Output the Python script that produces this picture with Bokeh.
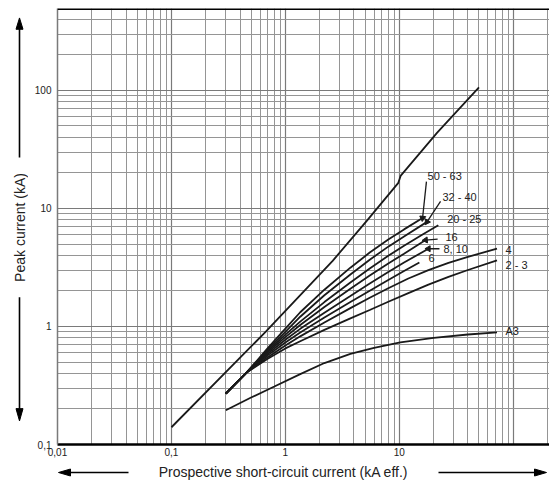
import math
from bokeh.plotting import figure
from bokeh.models import FixedTicker, CustomJSTickFormatter, Range1d, Span
from bokeh.layouts import row, column
from bokeh.embed import file_html
from bokeh.resources import INLINE
from bokeh.core.properties import value

FONT = "Liberation Sans"

# ---------------- data ----------------
x_major = [0.01, 0.1, 1, 10, 100]
y_major = [0.1, 1, 10, 100]
x_minor = [0.02, 0.03, 0.04, 0.05, 0.06, 0.07, 0.08, 0.09,
           0.2, 0.3, 0.4, 0.5, 0.6, 0.7, 0.8, 0.9,
           2, 3, 4, 5, 6, 7, 8, 9,
           20, 30, 40, 50, 60, 70, 80, 90, 200]
y_minor = [0.2, 0.3, 0.4, 0.5, 0.6, 0.7, 0.8, 0.9,
           2, 3, 4, 5, 6, 7, 8, 9,
           20, 30, 40, 50, 60, 70, 80, 90,
           200, 300, 400]

# maximum (unlimited) peak current line
top_x = [0.1, 0.67, 2.6, 5.2, 9.8, 10.3, 21.5, 50]
top_y = [0.14, 0.9, 3.6, 7.9, 16.5, 19.0, 44, 106]

# let-through curves per fuse rating
c50_63_x = [0.3, 0.46, 0.7, 1.0, 1.35, 2.2, 3.72, 5.5, 8, 11, 16]
c50_63_y = [0.27, 0.41, 0.655, 0.96, 1.32, 2.05, 3.15, 4.23, 5.46, 6.65, 8.3]
c32_40_x = [0.3, 0.46, 0.7, 1.0, 1.35, 2.2, 3.72, 5.5, 8, 11, 17.5]
c32_40_y = [0.27, 0.41, 0.637, 0.90, 1.21, 1.84, 2.76, 3.68, 4.75, 5.8, 7.7]
c20_25_x = [0.3, 0.46, 0.7, 1.0, 1.35, 2.2, 3.72, 5.5, 8, 11, 16, 22]
c20_25_y = [0.27, 0.41, 0.619, 0.854, 1.10, 1.61, 2.36, 3.10, 3.97, 4.84, 6.01, 7.2]
c16_x = [0.3, 0.46, 0.7, 1.0, 1.35, 2.2, 3.72, 5.5, 8, 11, 17]
c16_y = [0.27, 0.41, 0.603, 0.813, 1.03, 1.46, 2.09, 2.70, 3.42, 4.14, 5.4]
c8_10_x = [0.3, 0.46, 0.7, 1.0, 1.35, 2.2, 3.72, 5.5, 8, 11, 18]
c8_10_y = [0.27, 0.41, 0.586, 0.771, 0.955, 1.31, 1.81, 2.31, 2.89, 3.48, 4.56]
c6_x = [0.3, 0.46, 0.7, 1.0, 1.35, 2.2, 3.72, 5.5, 8, 11, 15]
c6_y = [0.27, 0.41, 0.569, 0.731, 0.888, 1.19, 1.61, 2.01, 2.48, 2.95, 3.49]
c4_x = [0.3, 0.46, 0.7, 1.0, 1.35, 2.2, 3.72, 5.5, 8, 12, 18, 27, 40, 72]
c4_y = [0.27, 0.41, 0.55, 0.689, 0.825, 1.08, 1.43, 1.75, 2.11, 2.55, 3.0, 3.46, 3.89, 4.56]
c2_3_x = [0.3, 0.46, 0.7, 1.0, 1.35, 2.2, 3.72, 5.5, 8, 12, 18, 27, 40, 72]
c2_3_y = [0.27, 0.41, 0.532, 0.652, 0.75, 0.935, 1.17, 1.38, 1.62, 1.92, 2.26, 2.63, 3.01, 3.63]
cA3_x = [0.3, 0.5, 0.8, 1.35, 2.2, 3.72, 6, 10.2, 20, 40, 72]
cA3_y = [0.195, 0.25, 0.31, 0.395, 0.49, 0.585, 0.66, 0.735, 0.80, 0.855, 0.89]

label_text = ["50 - 63", "32 - 40", "20 - 25", "16", "8, 10", "6", "4", "2 - 3", "A3"]
label_x = [17.7, 23.9, 26.3, 25.4, 24.4, 18.0, 85.5, 85.5, 85.5]
label_y = [19.0, 12.4, 8.2, 5.68, 4.58, 3.77, 4.49, 3.35, 0.91]

# leaders: start point near label, end at curve end
leader_x0 = [17.3, 23.0, 21.7, 22.5]
leader_y0 = [16.9, 11.5, 5.5, 4.56]
leader_curves = [(c50_63_x, c50_63_y), (c32_40_x, c32_40_y), (c16_x, c16_y), (c8_10_x, c8_10_y)]

curves = [(c50_63_x, c50_63_y), (c32_40_x, c32_40_y), (c20_25_x, c20_25_y),
          (c16_x, c16_y), (c8_10_x, c8_10_y), (c6_x, c6_y), (c4_x, c4_y),
          (c2_3_x, c2_3_y), (cA3_x, cA3_y)]

# ---------------- main chart ----------------
X_RANGE = (0.01, 208)
Y_RANGE = (0.1, 495)

p = figure(width=521, height=462, x_axis_type="log", y_axis_type="log",
           x_range=Range1d(*X_RANGE), y_range=Range1d(*Y_RANGE),
           output_backend="svg", toolbar_location=None,
           min_border_left=29, min_border_right=0, min_border_top=8, min_border_bottom=18)
p.outline_line_color = None
p.background_fill_color = "white"

fmt = CustomJSTickFormatter(code="if (tick >= 100) { return ''; } return String(tick).replace('.', ',');")
fmt_y = CustomJSTickFormatter(code="return String(tick).replace('.', ',');")

p.xaxis.ticker = FixedTicker(ticks=x_major, minor_ticks=x_minor)
p.yaxis.ticker = FixedTicker(ticks=y_major, minor_ticks=y_minor)
p.xaxis.formatter = fmt
p.yaxis.formatter = fmt_y
for ax in (p.xaxis, p.yaxis):
    ax.major_tick_out = 0
    ax.major_tick_in = 0
    ax.minor_tick_out = 0
    ax.minor_tick_in = 0
    ax.major_label_text_font = FONT
    ax.major_label_text_font_size = "10px"
    ax.major_label_text_color = "#222222"
p.xaxis.major_label_standoff = 3
p.yaxis.major_label_standoff = 6
p.xaxis.axis_line_color = "black"
p.xaxis.axis_line_width = 2.5
p.yaxis.axis_line_color = "#7a7a7a"
p.yaxis.axis_line_width = 1.5

for g in (p.xgrid, p.ygrid):
    g.grid_line_color = "#7a7a7a"
    g.grid_line_width = 1.2
    g.minor_grid_line_color = "#959595"
    g.minor_grid_line_width = 1.0

p.add_layout(Span(location=Y_RANGE[1], dimension="width", line_color="black", line_width=3))

LC = "#1a1a1a"
p.line(top_x, top_y, line_color=LC, line_width=1.8)
for cx, cy in curves:
    p.line(cx, cy, line_color=LC, line_width=1.8)

# leaders with arrowheads
x1 = [c[0][-1] for c in leader_curves]
y1 = [c[1][-1] for c in leader_curves]
p.segment(x0=leader_x0, y0=leader_y0, x1=x1, y1=y1, line_color=LC, line_width=1.3)
angles = []
for a, b, c, d in zip(leader_x0, leader_y0, x1, y1):
    dx = (math.log10(c) - math.log10(a)) * 113.8
    dy = (math.log10(d) - math.log10(b)) * 118
    angles.append(math.atan2(dy, dx) - math.pi / 2)
p.scatter(x=x1, y=y1, marker="triangle", size=6, angle=angles,
          fill_color=LC, line_color=LC)

p.text(x=label_x, y=label_y, text=label_text, text_font=value(FONT),
       text_font_size="11px", text_baseline="middle", text_align="left",
       text_color="#222222")

# ---------------- y-title strip with arrows ----------------
yf = figure(width=28, height=462, x_range=Range1d(0, 28), y_range=Range1d(0, 462),
            output_backend="svg", toolbar_location=None, min_border=0)
yf.axis.visible = False
yf.grid.visible = False
yf.outline_line_color = None
AX = 19
yf.segment(x0=[AX, AX], y0=[441, 156], x1=[AX, AX], y1=[304, 38], line_color="black", line_width=1.6)
yf.patches(xs=[[AX - 3.5, AX + 3.5, AX], [AX - 3.5, AX + 3.5, AX]],
           ys=[[440, 440, 452], [38, 38, 25]], fill_color="black", line_color="black")
yf.text(x=[AX], y=[230], text=["Peak current (kA)"], angle=math.pi / 2,
        text_font=value(FONT), text_font_size="14px", text_align="center",
        text_baseline="middle", text_color="#222222")

# ---------------- x-title strip with arrows ----------------
xf = figure(width=549, height=25, x_range=Range1d(0, 549), y_range=Range1d(0, 25),
            output_backend="svg", toolbar_location=None, min_border=0)
xf.axis.visible = False
xf.grid.visible = False
xf.outline_line_color = None
AY = 15
xf.segment(x0=[69, 438], y0=[AY, AY], x1=[128, 535], y1=[AY, AY], line_color="black", line_width=1.6)
xf.patches(xs=[[70, 70, 58], [534, 534, 546]], ys=[[AY - 3.5, AY + 3.5, AY], [AY - 3.5, AY + 3.5, AY]],
           fill_color="black", line_color="black")
xf.text(x=[283], y=[AY + 1], text=["Prospective short-circuit current (kA eff.)"],
        text_font=value(FONT), text_font_size="14px", text_align="center",
        text_baseline="middle", text_color="#222222")

layout = column(row(yf, p, spacing=0), xf, spacing=0)
open("out.html", "w").write(file_html(layout, INLINE))
